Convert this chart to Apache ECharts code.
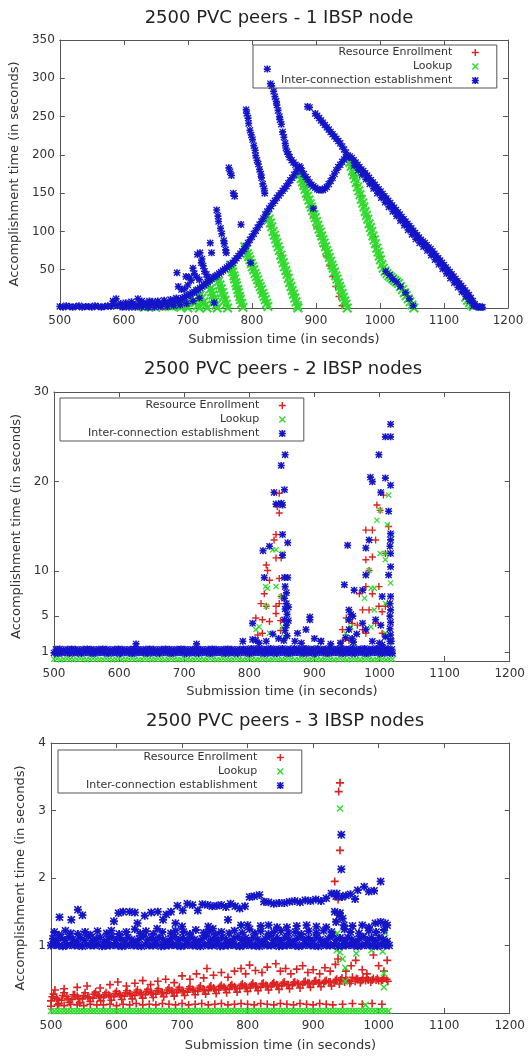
<!DOCTYPE html>
<html>
<head>
<meta charset="utf-8">
<title>2500 PVC peers - IBSP nodes</title>
<script src="https://cdn.jsdelivr.net/npm/echarts@6/dist/echarts.min.js"></script>
<style>
  html, body { margin: 0; padding: 0; background: #fff; }
  #chart { width: 528px; height: 1056px; }
</style>
</head>
<body>
<div id="chart"></div>
<script>
// ---- values ----
var seriesNames = ['Resource Enrollment', 'Lookup', 'Inter-connection establishment']
var panelTitles = ['2500 PVC peers - 1 IBSP node', '2500 PVC peers - 2 IBSP nodes', '2500 PVC peers - 3 IBSP nodes']
var xTicks = [500, 600, 700, 800, 900, 1000, 1100, 1200]
var yTicks1 = [50, 100, 150, 200, 250, 300, 350]
var yTicks2 = [1, 5, 10, 20, 30]
var yTicks3 = [1, 2, 3, 4]

// panel 1 : one IBSP node
var enroll1 = [[640,1],[660,1],[680,2],[695,4],[707,12],[713,5],[718,19],[726,6],[734,27],[740,13],[745,2],[747,37],[752,25],[757,13],[761,3],
  [768,52],[772,40],[777,26],[781,14],[785,3],[790,77],[795,65],[800,54],[806,42],[811,31],[817,18],[822,8],
  [826,119],[830,107],[835,95],[840,82],[845,69],[850,57],[855,44],[860,31],[865,18],[870,5],
  [876,172],[881,159],[886,145],[891,132],[896,120],[901,106],[906,94],[911,81],[916,68],[921,55],[926,41],[931,28],[936,15],[941,3],
  [954,187],[959,173],[964,160],[969,147],[974,134],[979,120],[984,107],[989,93],[994,80],[999,67],[1004,54],[1012,44],[1020,38],[1030,30],[1040,18],[1050,4],
  [1138,9],[1145,3]]
var lookup1 = [[632,1],[640,2],[650,1],[660,2],[668,3],[675,2],[682,3],
  [684,5],[687,3],[689,1],[692,8],[695,5],[698,2],[700,0],
  [706,14],[709,10],[712,7],[715,3],[718,0],
  [716,22],[719,17],[722,13],[725,8],[728,4],[730,0],
  [733,30],[735,25],[737,21],[739,17],[741,12],[742,8],[744,4],[746,0],
  [746,40],[748,35],[750,30],[752,25],[754,20],[756,15],[758,10],[760,5],[762,0],
  [767,56],[769,51],[770,47],[772,42],[773,38],[775,33],[776,29],[778,24],[779,20],[781,15],[782,11],[784,6],[786,1],
  [789,80],[791,76],[793,71],[795,67],[797,63],[799,58],[801,54],[803,50],[805,45],[807,41],[809,37],[811,32],[813,28],[815,24],[817,19],[819,15],[821,11],[823,6],[825,2],
  [825,121],[827,116],[829,111],[831,106],[833,100],[835,95],[837,90],[839,85],[841,80],[843,75],[845,69],[847,64],[849,59],[851,54],[853,49],[855,44],[857,39],[859,33],[861,28],[863,23],[865,18],[867,13],[869,8],[871,3],[872,0],
  [875,174],[877,169],[879,165],[881,160],[883,155],[885,150],[887,146],[889,141],[891,136],[893,132],[895,127],[897,122],[899,118],[901,113],[903,108],[905,103],[907,99],[909,94],[911,89],[913,85],[915,80],[917,75],[919,71],[921,66],[923,61],[925,56],[927,52],[929,47],[931,42],[933,38],[935,33],[937,28],[939,24],[941,19],[943,14],[945,9],[947,5],[949,0],
  [953,190],[955,185],[957,179],[959,174],[961,169],[963,164],[965,158],[967,153],[969,148],[971,142],[973,137],[975,132],[977,126],[979,121],[981,116],[983,110],[985,105],[987,100],[989,94],[991,89],[993,84],[995,78],[997,73],[999,68],[1001,63],[1003,57],[1005,52],
  [1008,48],[1011,45],[1014,42],[1017,40],[1020,38],[1023,36],[1026,34],[1029,32],[1032,28],[1035,24],[1038,20],[1041,16],[1044,12],[1047,8],[1050,4],[1053,0],
  [1134,14],[1137,10],[1140,7],[1143,4],[1146,2]]
var inter1 = [[500,2],[505,1],[510,3],[515,2],[520,1],[525,2],[530,3],[535,1],[540,2],[545,2],[550,1],[555,3],[560,2],[565,1],[570,2],[575,3],[580,2],
  [583,9],[585,5],[588,12],[590,3],[595,6],[600,2],[603,7],[605,4],[610,3],[612,8],[615,5],[620,3],[622,12],[625,6],[628,9],[630,4],[635,7],[638,3],
  [640,9],[643,5],[645,8],[650,4],[653,9],[655,6],[660,5],[663,10],[665,7],[670,6],[673,11],[675,8],[680,9],[682,13],[685,10],
  [598,1],[608,1],[618,1],[628,1],[638,1],[648,1],[658,2],[668,2],[678,3],[688,4],[698,6],[708,9],[718,13],
  [689,11],[692,13],[695,14],[698,16],[701,17],[704,18],[707,20],[710,21],[713,23],[716,24],[719,26],[722,28],[725,30],[728,32],[731,34],[734,36],[737,38],[740,40],
  [743,41],[746,43],[749,45],[752,47],[755,49],[758,51],[761,53],[764,55],[767,57],[770,59],[773,62],[776,65],[779,68],[782,71],[785,74],[788,77],[791,81],[794,85],
  [797,89],[800,93],[803,97],[806,101],[809,105],[812,109],[815,113],[818,117],[821,122],[824,126],[827,130],[830,133],[833,137],[836,140],[839,144],[842,147],
  [845,150],[848,153],[851,156],[854,159],[857,163],[860,167],[863,170],[866,174],[869,178],[872,182],[874,185],[876,183],
  [878,179],[881,175],[884,171],[887,168],[890,164],[893,161],[896,159],[899,157],[902,155],[905,154],[908,154],[911,154],[914,156],[917,158],[920,162],[923,166],
  [926,170],[929,175],[932,180],[935,184],[938,187],[941,191],[944,194],[947,197],[950,199],[953,198],
  [956,196],[959,193],[962,190],[965,187],[968,184],[971,181],[974,179],[977,176],[980,173],[983,170],[986,167],[989,164],[992,161],[995,158],[998,155],[1001,152],
  [1004,149],[1007,146],[1010,143],[1013,140],[1016,137],[1019,134],[1022,131],[1025,128],[1028,125],[1031,122],[1034,119],[1037,116],[1040,113],[1043,110],
  [1046,107],[1049,104],[1052,101],[1055,98],[1058,95],[1061,92],[1064,89],[1067,87],[1070,85],[1073,82],[1076,79],[1079,77],[1082,74],[1085,71],[1088,68],
  [1091,65],[1094,62],[1097,59],[1100,56],[1103,53],[1106,50],[1109,47],[1112,44],[1115,41],[1118,38],[1121,35],[1124,32],[1127,29],[1130,26],[1133,23],
  [1136,20],[1139,17],[1142,13],[1145,9],[1148,5],[1151,2],[1154,1],
  [960,186],[966,180],[972,174],[978,168],[984,162],[990,156],[996,150],[1002,144],[1008,138],[1014,132],[1020,126],[1026,120],[1032,114],[1038,108],[1044,102],
  [1050,96],[1056,90],[1062,85],[1068,80],[1074,75],[1080,69],[1086,63],[1092,57],[1098,51],[1104,45],[1110,39],[1116,33],[1122,27],[1128,21],[1134,15],[1140,9],[1146,3],[1156,2],[1158,1],
  [887,263],[890,262],[899,254],[902,251],[905,248],[908,245],[911,242],[914,239],[917,236],[920,233],[923,230],[926,227],[929,224],[932,221],[935,218],[938,215],[941,211],[944,207],[947,203],
  [824,312],[829,293],[831,290],[834,283],[836,276],[838,270],[839,265],[841,258],[843,250],[844,246],[846,240],[848,230],[850,223],[852,215],[853,209],[855,204],[857,201],[859,197],[862,193],[865,190],[868,187],
  [791,259],[792,254],[794,248],[795,241],[797,232],[799,226],[801,220],[803,212],[805,206],[806,199],[808,193],[810,188],[812,181],[814,175],[815,170],[817,162],[819,156],[820,150],
  [764,183],[766,178],[768,173],[771,150],[773,146],[783,109],
  [745,128],[747,120],[748,113],[751,104],[753,97],[756,88],[757,84],[759,76],[760,72],
  [735,85],[737,72],[683,46],[685,28],[690,24],[695,25],[697,41],[700,30],[702,40],[705,36],[708,52],[710,45],[714,40],[715,70],[718,37],[719,72],[721,59],[722,64],[724,55],[726,48],[729,44],[731,40],
  [896,130],[798,59],[741,7],[1009,48],[1015,43],[1020,38],[1026,34],[1032,28],[1040,20],[1046,12],[1052,3],[1160,1]]

// panel 2 : two IBSP nodes
var enroll2 = [[846,18.7],[843,17.2],[846,16.5],[841,14.1],[838,13.5],[841,11.5],[849,11.5],[826,10.7],[828,10.1],[831,9.0],[846,9.2],[823,7.5],[849,7.2],
  [818,6.4],[826,6.1],[841,6.1],[846,6.4],[810,4.8],[820,4.6],[831,4.4],[841,5.3],[813,2.9],[820,3.1],[848,4.5],[848,3.4],
  [996,17.4],[1001,16.8],[1006,18.5],[989,14.6],[979,14.6],[1014,15.0],[994,13.5],[989,11.6],[979,11.3],[1009,12.0],[984,10.1],[979,8.3],[999,8.3],
  [969,7.5],[989,7.5],[999,6.1],[1009,6.1],[974,5.7],[984,5.7],[1004,5.5],[949,4.8],[958,4.2],[943,3.5],[966,4.0],[974,3.5],[994,4.2],[979,3.1],[1004,3.1],
  [943,2.2],[953,2.3],[977,0.9]]
var lookup2 = [[500,0.2],[505,0.25],[510,0.15],[515,0.2],[520,0.25],[525,0.2],[530,0.15],[535,0.2],[540,0.25],[545,0.2],[550,0.15],[555,0.2],[560,0.25],[565,0.2],
  [570,0.15],[575,0.2],[580,0.25],[585,0.2],[590,0.15],[595,0.2],[600,0.25],[605,0.2],[610,0.15],[615,0.2],[620,0.25],[625,0.2],[630,0.15],[635,0.2],[640,0.25],
  [645,0.2],[650,0.15],[655,0.2],[660,0.25],[665,0.2],[670,0.15],[675,0.2],[680,0.25],[685,0.2],[690,0.15],[695,0.2],[700,0.25],[705,0.2],[710,0.15],[715,0.2],
  [720,0.25],[725,0.2],[730,0.15],[735,0.2],[740,0.25],[745,0.2],[750,0.15],[755,0.2],[760,0.25],[765,0.2],[770,0.15],[775,0.2],[780,0.25],[785,0.2],[790,0.15],
  [795,0.2],[800,0.25],[805,0.2],[810,0.15],[815,0.2],[820,0.25],[825,0.2],[830,0.15],[835,0.2],[840,0.25],[845,0.2],[850,0.15],[855,0.2],[860,0.25],[865,0.2],
  [870,0.15],[875,0.2],[880,0.25],[885,0.2],[890,0.15],[895,0.2],[900,0.25],[905,0.2],[910,0.15],[915,0.2],[920,0.25],[925,0.2],[930,0.15],[935,0.2],[940,0.25],
  [945,0.2],[950,0.15],[955,0.2],[960,0.25],[965,0.2],[970,0.15],[975,0.2],[980,0.25],[985,0.2],[990,0.15],[995,0.2],[1000,0.25],[1005,0.2],[1010,0.15],[1015,0.2],[1020,0.2],
  [836,12.4],[841,12.4],[851,12.0],[825,8.3],[828,8.1],[841,8.3],[849,7.2],[810,3.5],[815,3.8],[826,6.1],[851,3.8],[854,2.7],[831,3.1],
  [1014,18.5],[1001,16.8],[996,15.7],[1012,15.2],[1019,14.1],[1009,12.0],[1001,12.0],[1009,11.3],[984,10.1],[992,8.1],[987,8.1],[1017,8.7],[977,7.0],
  [992,5.7],[1009,6.4],[951,4.6],[956,3.8],[948,3.1],[987,3.8],[1009,3.1],[958,2.0]]
var inter2 = [[500,0.9],[506,0.85],[512,0.9],[518,0.95],[524,0.85],[530,0.9],[536,0.9],[542,0.85],[548,0.95],[554,0.9],[560,0.85],[566,0.9],[572,0.95],[578,0.9],
  [584,0.85],[590,0.9],[596,0.9],[602,0.85],[608,0.95],[614,0.9],[620,0.85],[626,0.9],[632,0.95],[638,0.9],[644,0.85],[650,0.9],[656,0.9],[662,0.85],[668,0.95],
  [674,0.9],[680,0.85],[686,0.9],[692,0.95],[698,0.9],[704,0.85],[710,0.9],[716,0.9],[722,0.85],[728,0.95],[734,0.9],[740,0.85],[746,0.9],[752,0.95],[758,0.9],
  [764,0.85],[770,0.9],[776,0.9],[782,0.85],[788,0.95],[794,0.9],[800,0.85],[806,0.9],[812,0.95],[818,0.9],[824,0.85],[830,0.9],[836,0.9],[842,0.85],[848,0.95],
  [854,0.9],[860,0.85],[866,0.9],[872,0.95],[878,0.9],[884,0.85],[890,0.9],[896,0.9],[902,0.85],[908,0.95],[914,0.9],[920,0.85],[926,0.9],[932,0.95],[938,0.9],
  [944,0.85],[950,0.9],[956,0.9],[962,0.85],[968,0.95],[974,0.9],[980,0.85],[986,0.9],[992,0.95],[998,0.9],[1004,0.85],[1010,0.9],[1016,0.9],[1020,0.85],
  [503,1.3],[509,1.35],[515,1.25],[521,1.3],[527,1.35],[533,1.3],[539,1.25],[545,1.3],[551,1.35],[557,1.3],[563,1.25],[569,1.3],[575,1.35],[581,1.3],[587,1.25],
  [593,1.3],[599,1.35],[605,1.3],[611,1.25],[617,1.3],[623,1.35],[629,1.3],[635,1.25],[641,1.3],[647,1.35],[653,1.3],[659,1.25],[665,1.3],[671,1.35],[677,1.3],
  [683,1.25],[689,1.3],[695,1.35],[701,1.3],[707,1.25],[713,1.3],[719,1.35],[725,1.3],[731,1.25],[737,1.3],[743,1.35],[749,1.3],[755,1.25],[761,1.3],[767,1.35],
  [773,1.3],[779,1.25],[785,1.3],[791,1.35],[797,1.3],[803,1.4],[809,1.35],[815,1.4],[821,1.3],[827,1.35],[833,1.4],[839,1.3],[845,1.35],[851,1.4],[857,1.3],
  [863,1.35],[869,1.4],[875,1.3],[881,1.35],[887,1.4],[893,1.3],[899,1.35],[905,1.4],[911,1.3],[917,1.35],[923,1.4],[929,1.3],[935,1.35],[941,1.4],[947,1.3],
  [953,1.35],[959,1.4],[965,1.3],[971,1.35],[977,1.4],[983,1.3],[989,1.35],[995,1.4],[1001,1.3],[1007,1.35],[1013,1.4],[1019,1.3],
  [626,1.9],[719,1.9],[790,2.2],[805,2.4],[815,2.0],[870,2.2],[880,2.0],[900,2.5],[910,2.2],[925,1.9],[940,2.0],[960,2.1],[1000,2.0],[1018,2.2],
  [855,23.0],[849,21.8],[854,19.1],[838,18.8],[849,17.6],[851,17.4],[841,17.5],[851,14.1],[859,13.2],[831,12.8],[821,12.3],[851,11.8],[823,9.3],[854,9.3],[859,9.3],
  [855,8.3],[857,7.6],[854,7.0],[857,6.4],[855,5.8],[858,5.2],[854,4.6],[857,4.0],[855,3.4],[858,2.8],[853,2.3],[860,6.0],[860,4.5],[805,4.2],[810,2.3],[826,2.2],
  [874,3.1],[887,3.5],[893,4.6],[893,4.9],[910,2.2],[836,3.0],[845,2.5],
  [1017,26.4],[1009,25.0],[1017,25.0],[999,23.0],[986,20.5],[989,20.0],[1009,20.4],[1017,19.6],[1002,18.8],[1014,16.7],[984,13.5],[951,12.9],[979,12.6],[1017,14.2],
  [1017,13.5],[1016,12.8],[1017,12.0],[1017,10.5],[979,9.6],[1014,9.6],[946,8.5],[961,7.9],[974,7.9],[1004,7.2],[1017,7.2],[1016,6.4],[1017,5.7],[1016,5.0],
  [1017,4.3],[1016,3.6],[1017,2.9],[1016,2.2],[953,5.7],[956,5.2],[953,4.6],[959,5.0],[974,4.2],[994,4.6],[979,3.5],[953,3.5],[958,2.5],[989,2.2],[1009,2.7],
  [1004,1.8],[965,3.0],[948,2.6],[1002,4.0]]

// panel 3 : three IBSP nodes
var enroll3 = [[500,0.18],[508,0.22],[516,0.19],[524,0.24],[532,0.2],[540,0.25],[548,0.21],[556,0.24],[564,0.22],[572,0.26],[580,0.23],[588,0.27],[596,0.24],
  [604,0.28],[612,0.25],[620,0.29],[628,0.26],[636,0.3],[644,0.27],[652,0.31],[660,0.28],[668,0.31],[676,0.29],[684,0.33],[692,0.3],[700,0.33],[708,0.31],
  [716,0.35],[724,0.32],[732,0.35],[740,0.33],[748,0.37],[756,0.34],[764,0.38],[772,0.35],[780,0.39],[788,0.36],[796,0.4],[804,0.37],[812,0.4],[820,0.38],
  [828,0.41],[836,0.39],[844,0.42],[852,0.4],[860,0.42],[868,0.41],[876,0.44],[884,0.42],[892,0.45],[900,0.43],[908,0.45],[916,0.44],[924,0.46],[932,0.45],
  [940,0.43],[948,0.46],[956,0.44],[964,0.47],[972,0.45],[980,0.48],[988,0.46],[996,0.49],[1004,0.47],[1012,0.5],
  [504,0.28],[512,0.14],[520,0.3],[528,0.16],[536,0.27],[544,0.15],[552,0.3],[560,0.17],[568,0.31],[576,0.18],[584,0.3],[592,0.19],[600,0.32],[608,0.2],
  [616,0.33],[624,0.21],[632,0.34],[640,0.22],[648,0.35],[656,0.23],[664,0.36],[672,0.24],[680,0.37],[688,0.25],[696,0.38],[704,0.26],[712,0.39],[720,0.27],
  [728,0.4],[736,0.28],[744,0.4],[752,0.29],[760,0.41],[768,0.3],[776,0.42],[784,0.31],[792,0.43],[800,0.32],[808,0.44],[816,0.33],[824,0.44],[832,0.34],
  [840,0.45],[848,0.35],[856,0.46],[864,0.36],[872,0.46],[880,0.37],[888,0.47],[896,0.38],[904,0.48],[912,0.39],[920,0.48],[928,0.4],[936,0.5],[944,0.52],
  [952,0.48],[960,0.53],[968,0.5],[976,0.52],[984,0.49],[992,0.51],[1000,0.48],[1008,0.52],
  [502,0.24],[510,0.2],[518,0.26],[526,0.21],[534,0.27],[542,0.22],[550,0.26],[558,0.23],[566,0.28],[574,0.24],[582,0.27],[590,0.25],[598,0.29],[606,0.26],
  [614,0.3],[622,0.27],[630,0.31],[638,0.28],[646,0.32],[654,0.29],[662,0.33],[670,0.3],[678,0.34],[686,0.31],[694,0.35],[702,0.32],[710,0.36],[718,0.33],
  [726,0.37],[734,0.34],[742,0.38],[750,0.35],[758,0.39],[766,0.36],[774,0.4],[782,0.37],[790,0.41],[798,0.38],[806,0.42],[814,0.39],[822,0.43],[830,0.4],
  [838,0.43],[846,0.41],[854,0.44],[862,0.42],[870,0.45],[878,0.43],[886,0.46],[894,0.44],[902,0.47],[910,0.45],[918,0.47],[926,0.46],[934,0.48],[942,0.49],
  [950,0.5],[958,0.47],[966,0.51],[974,0.48],[982,0.52],[990,0.49],[998,0.51],[1006,0.49],[1014,0.47],
  [500,0.1],[510,0.12],[520,0.11],[530,0.13],[540,0.12],[550,0.11],[560,0.13],[570,0.12],[580,0.12],[590,0.13],[600,0.11],[610,0.13],[620,0.12],[630,0.14],
  [640,0.12],[650,0.13],[660,0.12],[670,0.14],[680,0.13],[690,0.12],[700,0.14],[710,0.12],[720,0.13],[730,0.14],[740,0.12],[750,0.13],[760,0.14],[770,0.12],
  [780,0.13],[790,0.14],[800,0.13],[810,0.12],[820,0.14],[830,0.13],[840,0.12],[850,0.14],[860,0.13],[870,0.12],[880,0.14],[890,0.13],[900,0.12],[910,0.14],
  [920,0.13],[930,0.12],[945,0.13],[960,0.14],[975,0.13],[990,0.14],[1005,0.13],
  [506,0.34],[520,0.36],[540,0.38],[555,0.4],[575,0.37],[590,0.42],[602,0.46],[615,0.4],[628,0.44],[640,0.48],[652,0.42],[663,0.47],[675,0.5],[688,0.45],
  [700,0.55],[712,0.5],[722,0.58],[733,0.52],[738,0.66],[748,0.56],[760,0.6],[770,0.53],[780,0.62],[790,0.66],[797,0.58],[803,0.71],[812,0.63],[822,0.6],
  [830,0.68],[843,0.73],[850,0.62],[858,0.66],[866,0.58],[875,0.65],[884,0.7],[892,0.6],[900,0.64],[910,0.58],[918,0.67],[926,0.62],[934,0.72],[938,0.8],
  [950,0.62],[958,0.7],[965,0.78],[975,0.64],[982,0.58],[992,0.86],[1000,0.7],[1008,0.62],[1013,0.78],
  [941,3.41],[939,3.28],[941,2.41],[933,1.95],[936,1.38],[938,1.68],[945,1.1]]
var lookup3 = [[500,0.03],[505,0.03],[510,0.03],[515,0.03],[520,0.03],[525,0.03],[530,0.03],[535,0.03],[540,0.03],[545,0.03],[550,0.03],[555,0.03],[560,0.03],
  [565,0.03],[570,0.03],[575,0.03],[580,0.03],[585,0.03],[590,0.03],[595,0.03],[600,0.03],[605,0.03],[610,0.03],[615,0.03],[620,0.03],[625,0.03],[630,0.03],
  [635,0.03],[640,0.03],[645,0.03],[650,0.03],[655,0.03],[660,0.03],[665,0.03],[670,0.03],[675,0.03],[680,0.03],[685,0.03],[690,0.03],[695,0.03],[700,0.03],
  [705,0.03],[710,0.03],[715,0.03],[720,0.03],[725,0.03],[730,0.03],[735,0.03],[740,0.03],[745,0.03],[750,0.03],[755,0.03],[760,0.03],[765,0.03],[770,0.03],
  [775,0.03],[780,0.03],[785,0.03],[790,0.03],[795,0.03],[800,0.03],[805,0.03],[810,0.03],[815,0.03],[820,0.03],[825,0.03],[830,0.03],[835,0.03],[840,0.03],
  [845,0.03],[850,0.03],[855,0.03],[860,0.03],[865,0.03],[870,0.03],[875,0.03],[880,0.03],[885,0.03],[890,0.03],[895,0.03],[900,0.03],[905,0.03],[910,0.03],
  [915,0.03],[920,0.03],[925,0.03],[930,0.03],[935,0.03],[940,0.03],[945,0.03],[950,0.03],[955,0.03],[960,0.03],[965,0.03],[970,0.03],[975,0.03],[980,0.03],
  [985,0.03],[990,0.03],[995,0.03],[1000,0.03],[1005,0.03],[1010,0.03],[1015,0.03],
  [941,3.03],[937,1.18],[936,0.93],[941,0.9],[945,0.8],[949,0.67],[949,0.47],[966,0.88],[989,0.93],[1006,0.91],[1008,0.59],[1008,0.38],[980,0.12],[1010,1.18]]
var inter3 = [[500,1.0],[506,1.01],[512,1.0],[518,0.99],[524,1.0],[530,1.01],[536,1.0],[542,1.0],[548,0.99],[554,1.01],[560,1.0],[566,1.0],[572,1.01],[578,0.99],
  [584,1.0],[590,1.0],[596,1.01],[602,1.0],[608,0.99],[614,1.0],[620,1.01],[626,1.0],[632,1.0],[638,0.99],[644,1.01],[650,1.0],[656,1.0],[662,1.01],[668,0.99],
  [674,1.0],[680,1.0],[686,1.01],[692,1.0],[698,0.99],[704,1.0],[710,1.01],[716,1.0],[722,1.0],[728,0.99],[734,1.01],[740,1.0],[746,1.0],[752,1.01],[758,0.99],
  [764,1.0],[770,1.0],[776,1.01],[782,1.0],[788,0.99],[794,1.0],[800,1.01],[806,1.0],[812,1.0],[818,0.99],[824,1.01],[830,1.0],[836,1.0],[842,1.01],[848,0.99],
  [854,1.0],[860,1.0],[866,1.01],[872,1.0],[878,0.99],[884,1.0],[890,1.01],[896,1.0],[902,1.0],[908,0.99],[914,1.01],[920,1.0],[926,1.0],[932,1.01],[938,0.99],
  [944,1.0],[950,1.0],[956,1.01],[962,1.0],[968,0.99],[974,1.0],[980,1.01],[986,1.0],[992,1.0],[998,0.99],[1004,1.01],[1010,1.0],[1016,1.0],
  [503,1.1],[509,1.07],[515,1.12],[521,1.08],[527,1.13],[533,1.09],[539,1.06],[545,1.11],[551,1.08],[557,1.14],[563,1.07],[569,1.1],[575,1.12],[581,1.06],
  [587,1.09],[593,1.13],[599,1.08],[605,1.11],[611,1.07],[617,1.12],[623,1.09],[629,1.06],[635,1.1],[641,1.14],[647,1.08],[653,1.11],[659,1.07],[665,1.12],
  [671,1.09],[677,1.06],[683,1.1],[689,1.13],[695,1.08],[701,1.11],[707,1.07],[713,1.12],[719,1.09],[725,1.06],[731,1.1],[737,1.14],[743,1.08],[749,1.11],
  [755,1.07],[761,1.12],[767,1.09],[773,1.06],[779,1.1],[785,1.13],[791,1.08],[797,1.11],[803,1.07],[809,1.12],[815,1.09],[821,1.06],[827,1.1],[833,1.14],
  [839,1.08],[845,1.11],[851,1.07],[857,1.12],[863,1.09],[869,1.06],[875,1.1],[881,1.13],[887,1.08],[893,1.11],[899,1.07],[905,1.12],[911,1.09],[917,1.06],
  [923,1.1],[929,1.14],[935,1.08],[941,1.11],[947,1.07],[953,1.12],[959,1.09],[965,1.06],[971,1.1],[977,1.13],[983,1.08],[989,1.11],[995,1.07],[1001,1.12],
  [1007,1.09],[1013,1.06],
  [505,1.2],[512,1.16],[522,1.22],[530,1.18],[541,1.17],[552,1.2],[560,1.16],[571,1.21],[585,1.18],[592,1.22],[604,1.17],[615,1.2],[628,1.24],[636,1.18],
  [645,1.21],[656,1.17],[662,1.25],[670,1.2],[683,1.18],[690,1.22],[702,1.2],[712,1.17],[721,1.23],[733,1.19],[742,1.21],[751,1.17],[760,1.2],[772,1.18],
  [780,1.22],[792,1.19],[803,1.24],[811,1.18],[820,1.21],[832,1.17],[840,1.2],[851,1.22],[862,1.18],[873,1.2],[882,1.17],[893,1.21],[905,1.19],[916,1.22],
  [928,1.2],[948,1.24],[957,1.2],[970,1.18],[985,1.22],[996,1.2],[1008,1.23],
  [513,1.42],[531,1.38],[541,1.53],[548,1.45],[596,1.36],[603,1.48],[610,1.5],[620,1.5],[628,1.49],[632,1.33],[643,1.44],[653,1.49],[663,1.5],[671,1.38],
  [676,1.46],[683,1.5],[690,1.33],[700,1.28],[740,1.28],[747,1.25],[770,1.38],[790,1.3],[800,1.3],[820,1.29],[832,1.3],[845,1.27],[860,1.27],[875,1.29],
  [890,1.3],[905,1.28],[920,1.27],[935,1.35],[947,1.3],[960,1.29],[975,1.3],[985,1.27],[995,1.33],[1003,1.35],[1010,1.33],[1013,1.3],
  [693,1.59],[701,1.52],[708,1.62],[716,1.6],[724,1.52],[731,1.61],[739,1.6],[746,1.58],[753,1.59],[760,1.6],[767,1.57],[774,1.62],[781,1.58],[788,1.55],
  [796,1.58],[803,1.72],[810,1.73],[818,1.75],[825,1.65],[832,1.64],[840,1.62],[848,1.63],[856,1.63],[864,1.65],[872,1.66],[880,1.64],[888,1.67],[896,1.66],
  [904,1.68],[912,1.66],[920,1.7],[928,1.77],[935,1.73],[944,1.72],[950,1.74],[957,1.76],[964,1.69],[968,1.82],[978,1.87],[985,1.8],[993,1.81],[1003,1.95],
  [943,2.64],[943,2.13],[936,1.77],[933,1.5],[941,1.48],[940,1.45],[945,1.4]]

// ---- drawing ----
var fontFamily = 'DejaVu Sans'
var red = '#dd2222'
var green = '#2edc2e'
var blue = '#1414c8'
var lineColor = '#555'
var textColor = '#333'

var plusPath = 'path://M4,0h2v10h-2z M0,4h10v2h-10z'
var crossPath = 'path://M1.4,0L5,3.6L8.6,0L10,1.4L6.4,5L10,8.6L8.6,10L5,6.4L1.4,10L0,8.6L3.6,5L0,1.4Z'
var starPath = 'path://M3.8,0h2.4v10h-2.4z M0,3.8h10v2.4h-10z M1.3,0L10,8.7L8.7,10L0,1.3Z M8.7,0L10,1.3L1.3,10L0,8.7Z'

var panels = [
  {grid: {left: 54, top: 40, width: 454, height: 268}, yMax: 350, yTicks: yTicks1, xGap: 25, yGap: 34, sizes: [7, 10, 7],
   title: {left: 279, top: 8}, legend: {left: 253, top: 45}, data: [enroll1, lookup1, inter1]},
  {grid: {left: 54, top: 392, width: 457, height: 269}, yMax: 30, yTicks: yTicks2, xGap: 24, yGap: 26, sizes: [7, 6, 7],
   title: {left: 283, top: 359}, legend: {left: 60, top: 398}, data: [enroll2, lookup2, inter2]},
  {grid: {left: 51, top: 743, width: 467, height: 270}, yMax: 4, yTicks: yTicks3, xGap: 26, yGap: 15, sizes: [8, 7, 8],
   title: {left: 285, top: 711}, legend: {left: 58, top: 750}, data: [enroll3, lookup3, inter3]}
]

var colors = [red, green, blue]
var symbols = [plusPath, crossPath, starPath]

var option = {
  animation: false,
  backgroundColor: '#fff',
  title: [],
  legend: [],
  grid: [],
  xAxis: [],
  yAxis: [],
  series: []
}

function plainNumber (v) { return String(v) }

panels.forEach(function (p, i) {
  option.grid.push(p.grid)
  option.title.push({
    text: panelTitles[i], left: p.title.left, top: p.title.top, padding: 0,
    textAlign: 'center', textVerticalAlign: 'top',
    textStyle: {fontFamily: fontFamily, fontSize: 18, fontWeight: 'normal', color: '#222', lineHeight: 20}
  })
  option.legend.push({
    left: p.legend.left, top: p.legend.top, orient: 'vertical', align: 'right',
    itemWidth: 36, itemHeight: 7, itemGap: 1,
    padding: [1, 18, 1, 28], borderColor: lineColor, borderWidth: 1,
    textStyle: {fontFamily: fontFamily, fontSize: 11, color: textColor, lineHeight: 13},
    data: seriesNames.map(function (n, k) { return {name: n, icon: symbols[k]} })
  })
  // bottom axis with labels, plus a bare mirrored axis on top
  option.xAxis.push({
    type: 'value', gridIndex: i, position: 'bottom', min: 500, max: 1200, interval: 100,
    name: 'Submission time (in seconds)', nameLocation: 'middle', nameGap: p.xGap,
    nameTextStyle: {fontFamily: fontFamily, fontSize: 13, color: textColor},
    axisLine: {onZero: false, lineStyle: {color: lineColor}},
    axisTick: {inside: true, length: 5, lineStyle: {color: lineColor}},
    axisLabel: {fontFamily: fontFamily, fontSize: 12, color: textColor, margin: 7, customValues: xTicks, formatter: plainNumber},
    splitLine: {show: false}
  }, {
    type: 'value', gridIndex: i, position: 'top', min: 500, max: 1200, interval: 100,
    axisLine: {onZero: false, lineStyle: {color: lineColor}},
    axisTick: {inside: true, length: 5, lineStyle: {color: lineColor}},
    axisLabel: {show: false}, splitLine: {show: false}
  })
  option.yAxis.push({
    type: 'value', gridIndex: i, position: 'left', min: 0, max: p.yMax,
    name: 'Accomplishment time (in seconds)', nameLocation: 'middle', nameGap: p.yGap,
    nameTextStyle: {fontFamily: fontFamily, fontSize: 13, color: textColor},
    axisLine: {show: true, onZero: false, lineStyle: {color: lineColor}},
    axisTick: {show: true, inside: true, length: 5, customValues: p.yTicks, lineStyle: {color: lineColor}},
    axisLabel: {fontFamily: fontFamily, fontSize: 12, color: textColor, margin: 5, customValues: p.yTicks, formatter: plainNumber},
    splitLine: {show: false}
  }, {
    type: 'value', gridIndex: i, position: 'right', min: 0, max: p.yMax,
    axisLine: {show: true, onZero: false, lineStyle: {color: lineColor}},
    axisTick: {show: true, inside: true, length: 5, customValues: p.yTicks, lineStyle: {color: lineColor}},
    axisLabel: {show: false}, splitLine: {show: false}
  })
  p.data.forEach(function (d, k) {
    option.series.push({
      name: seriesNames[k], type: 'scatter', xAxisIndex: i * 2, yAxisIndex: i * 2,
      data: d, symbol: symbols[k], symbolSize: p.sizes[k],
      itemStyle: {color: colors[k], opacity: 1},
      emphasis: {disabled: true}
    })
  })
})

var myChart = echarts.init(document.getElementById('chart'), null, {renderer: 'canvas'})
myChart.setOption(option)
</script>
</body>
</html>
